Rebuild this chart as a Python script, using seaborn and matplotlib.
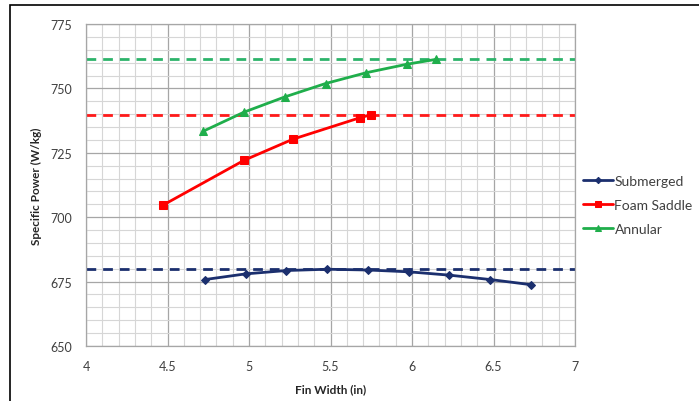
import numpy as np
import pandas as pd
import matplotlib
matplotlib.use("Agg")
import matplotlib.pyplot as plt
import seaborn as sns
from matplotlib.ticker import MultipleLocator
from matplotlib.patches import Rectangle

# Values
sub_x = [4.73, 4.98, 5.23, 5.48, 5.73, 5.98, 6.23, 6.48, 6.73]
sub_y = [675.8, 678.0, 679.3, 679.8, 679.5, 678.8, 677.5, 675.8, 673.8]
foam_x = [4.47, 4.97, 5.27, 5.68, 5.75]
foam_y = [704.6, 722.1, 730.3, 738.6, 739.8]
ann_x = [4.72, 4.97, 5.22, 5.47, 5.72, 5.97, 6.15]
ann_y = [733.4, 740.8, 746.7, 751.9, 756.1, 759.4, 761.3]
limits = {"Submerged": 680.0, "Foam Saddle": 739.8, "Annular": 761.5}

colors = {"Submerged": "#1b2f6e", "Foam Saddle": "#ff0000", "Annular": "#1fae4b"}
dash_colors = {"Submerged": "#1b2f6e", "Foam Saddle": "#ff1a1a", "Annular": "#2db36a"}
markers = {"Submerged": "D", "Foam Saddle": "s", "Annular": "^"}
msizes = {"Submerged": 4, "Foam Saddle": 6, "Annular": 6}

df = pd.concat([
    pd.DataFrame({"x": sub_x, "y": sub_y, "series": "Submerged"}),
    pd.DataFrame({"x": foam_x, "y": foam_y, "series": "Foam Saddle"}),
    pd.DataFrame({"x": ann_x, "y": ann_y, "series": "Annular"}),
])

sns.set_style("white")
plt.rcParams["font.family"] = ["Lato", "DejaVu Sans"]

fig = plt.figure(figsize=(6.99, 4.02), dpi=100)
ax = fig.add_axes([86 / 699, 55 / 402, 489 / 699, 322 / 402])

# dashed limit lines first (behind the curves)
for name, val in limits.items():
    ax.axhline(val, color=dash_colors[name], lw=2, ls=(0, (3.5, 2.5)), zorder=2)

for name in ["Submerged", "Foam Saddle", "Annular"]:
    sub = df[df["series"] == name]
    sns.lineplot(data=sub, x="x", y="y", ax=ax, color=colors[name], lw=2,
                 marker=markers[name], markersize=msizes[name],
                 markeredgecolor=colors[name], label=name, zorder=3,
                 estimator=None, sort=False)

ax.set_xlim(4, 7)
ax.set_ylim(650, 775)
ax.xaxis.set_major_locator(MultipleLocator(0.5))
ax.xaxis.set_minor_locator(MultipleLocator(0.1))
ax.yaxis.set_major_locator(MultipleLocator(25))
ax.yaxis.set_minor_locator(MultipleLocator(5))
ax.set_xticks([4, 4.5, 5, 5.5, 6, 6.5, 7])
ax.set_xticklabels(["4", "4.5", "5", "5.5", "6", "6.5", "7"])
ax.grid(which="major", color="#a6a6a6", lw=0.9, zorder=0)
ax.grid(which="minor", color="#d6d6d6", lw=0.8, zorder=0)
ax.set_axisbelow(True)
ax.tick_params(which="major", direction="out", length=4, width=0.8,
               color="#a6a6a6", labelsize=9, labelcolor="#404040", pad=6)
ax.tick_params(which="minor", length=0)
for s in ax.spines.values():
    s.set_color("#a6a6a6")
    s.set_linewidth(0.9)

ax.set_xlabel("Fin Width (in)", fontsize=8.5, fontweight="bold", labelpad=8)
ax.set_ylabel("Specific Power (W/kg)", fontsize=8.5, fontweight="bold", labelpad=6)

leg = ax.legend(loc="upper left", bbox_to_anchor=(1.004, 0.548), frameon=False,
                fontsize=10, handlelength=2.2, handletextpad=0.1, labelspacing=0.85,
                borderaxespad=0, markerscale=0.8)
for t in leg.get_texts():
    t.set_color("#404040")

# outer chart border (extends past right and bottom edge like the source)
fig.patches.append(Rectangle((10 / 699, -0.1), 1.2, 1 - 5.5 / 402 + 0.1,
                             transform=fig.transFigure, fill=False,
                             edgecolor="black", lw=1.2, zorder=10))

fig.savefig("out.png", dpi=100)
